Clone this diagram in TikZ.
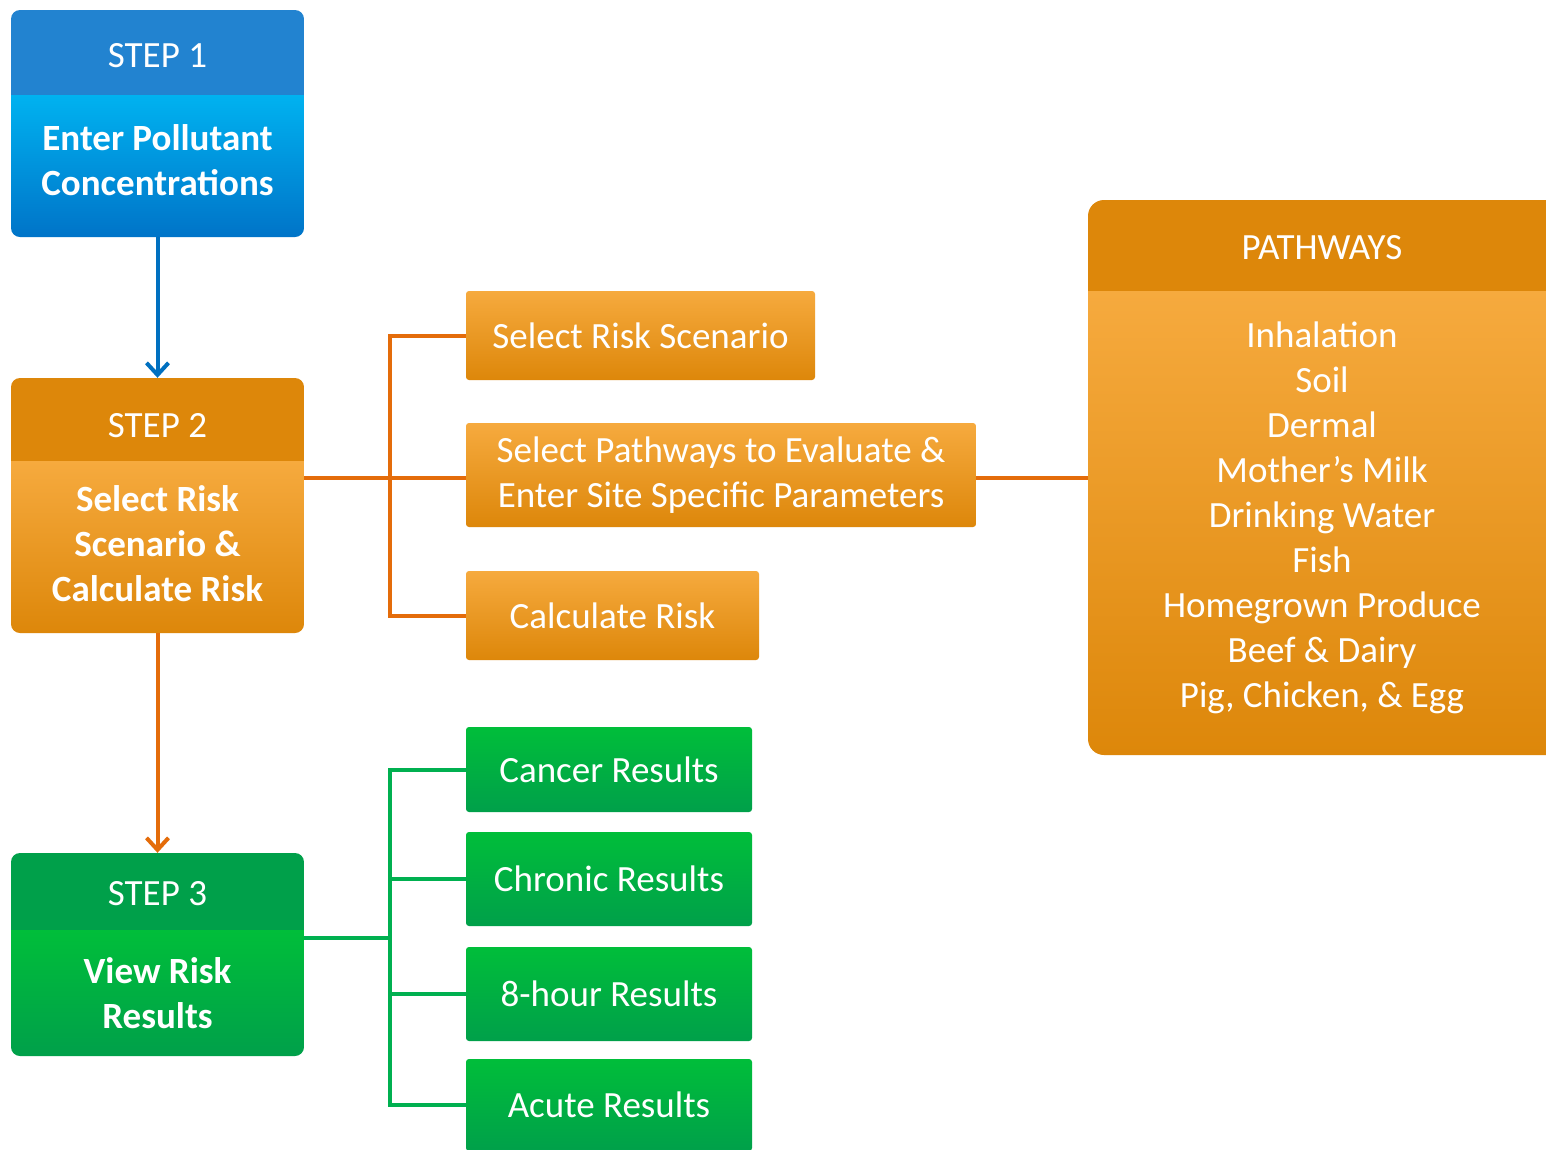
\documentclass[tikz,border=0pt]{standalone}
\usepackage{fontspec}
\setmainfont{Carlito}
\usetikzlibrary{arrows.meta,calc}
\definecolor{bhead}{RGB}{34,131,208}
\definecolor{btop}{RGB}{0,178,240}
\definecolor{bbot}{RGB}{0,116,200}
\definecolor{ohead}{RGB}{221,135,10}
\definecolor{otop}{RGB}{246,170,62}
\definecolor{obot}{RGB}{221,135,10}
\definecolor{ghead}{RGB}{0,160,74}
\definecolor{gtop}{RGB}{0,190,58}
\definecolor{gbot}{RGB}{0,160,74}
\definecolor{oline}{RGB}{228,108,10}
\definecolor{bline}{RGB}{0,112,192}
\definecolor{gline}{RGB}{0,176,80}
\tikzset{
  txt/.style={text=white, font=\fontsize{37}{45}\selectfont, align=center, inner sep=0pt},
  txtb/.style={txt, font=\bfseries\fontsize{37}{45}\selectfont},
  area/.style={inner sep=0pt, minimum width=293pt},
  obox/.style={txt, rounded corners=3pt, top color=otop, bottom color=obot},
  gbox/.style={txt, rounded corners=3pt, top color=gtop, bottom color=gbot},
  oconn/.style={draw=oline, line width=4pt},
  bconn/.style={draw=bline, line width=4pt},
  gconn/.style={draw=gline, line width=4pt},
  tip/.style={-{Straight Barb[length=12pt,width=22pt]}}
}
\begin{document}
\begin{tikzpicture}[x=1pt,y=-1pt]
\useasboundingbox (0,0) rectangle (1546,1149);
\clip (0,0) rectangle (1546,1149);
\fill[white] (0,0) rectangle (1546,1149);
% step 1 background
\begin{scope}
\clip[rounded corners=9pt] (11,10) rectangle (304,237);
\fill[bhead] (11,10) rectangle (304,95);
\shade[top color=btop,bottom color=bbot] (11,95) rectangle (304,237);
\end{scope}
% step 2 background
\begin{scope}
\clip[rounded corners=9pt] (11,378) rectangle (304,633);
\fill[ohead] (11,378) rectangle (304,461);
\shade[top color=otop,bottom color=obot] (11,461) rectangle (304,633);
\end{scope}
% step 3 background
\begin{scope}
\clip[rounded corners=9pt] (11,853) rectangle (304,1056);
\fill[ghead] (11,853) rectangle (304,930);
\shade[top color=gtop,bottom color=gbot] (11,930) rectangle (304,1056);
\end{scope}
% pathways background
\begin{scope}
\clip[rounded corners=16pt] (1088,200) rectangle (1570,755);
\fill[ohead] (1088,200) rectangle (1570,291);
\shade[top color=otop,bottom color=obot] (1088,291) rectangle (1570,755);
\end{scope}

% step areas
\node[area,minimum height=85pt] (s1h) at (157.5,52.5) {};
\node[area,minimum height=142pt] (s1b) at (157.5,166) {};
\node[area,minimum height=83pt] (s2h) at (157.5,419.5) {};
\node[area,minimum height=172pt] (s2b) at (157.5,547) {};
\node[area,minimum height=77pt] (s3h) at (157.5,891.5) {};
\node[area,minimum height=126pt] (s3b) at (157.5,993) {};
% step texts
\node[txt] (s1ht) at ([yshift=-3pt]s1h.center) {STEP 1};
\node[txtb] (s1bt) at ([yshift=6pt]s1b.center) {Enter Pollutant\\Concentrations};
\node[txt] (s2ht) at ([yshift=-6pt]s2h.center) {STEP 2};
\node[txtb] (s2bt) at ([yshift=3pt]s2b.center) {Select Risk\\Scenario \&\\Calculate Risk};
\node[txt] (s3ht) at ([yshift=-2pt]s3h.center) {STEP 3};
\node[txtb] (s3bt) at (s3b.center) {View Risk\\Results};

% orange sub-steps
\node[obox,minimum width=349pt,minimum height=89pt] (srs) at (640.5,335.5) {Select Risk Scenario};
\node[obox,minimum width=510pt,minimum height=104pt] (pw) at (721,475) {Select Pathways to Evaluate \&\\Enter Site Specific Parameters};
\node[obox,minimum width=293pt,minimum height=89pt] (cr) at (612.5,615.5) {Calculate Risk};

% pathways
\node[inner sep=0pt,minimum width=468pt,minimum height=91pt] (pwh) at (1322,245.5) {};
\node[inner sep=0pt,minimum width=468pt,minimum height=464pt] (pwl) at (1322,523) {};
\node[txt] (pwht) at ([yshift=-2pt]pwh.center) {PATHWAYS};
\node[txt] (pwlt) at ([yshift=5pt]pwl.center) {Inhalation\\Soil\\Dermal\\Mother’s Milk\\Drinking Water\\Fish\\Homegrown Produce\\Beef \& Dairy\\Pig, Chicken, \& Egg};

% green results
\node[gbox,minimum width=286pt,minimum height=85pt] (can) at (609,769.5) {Cancer Results};
\node[gbox,minimum width=286pt,minimum height=94pt] (chr) at (609,879) {Chronic Results};
\node[gbox,minimum width=286pt,minimum height=94pt] (eig) at (609,994) {8-hour Results};
\node[gbox,minimum width=286pt,minimum height=92pt] (acu) at (609,1105) {Acute Results};

% connectors
\coordinate (ob) at (390,478);
\coordinate (gb) at (390,938);
\draw[bconn,tip] (s1b.south) -- (s2h.north);
\draw[oconn,tip] (s2b.south) -- (s3h.north);
\draw[oconn] (s2b.east |- ob) -- (ob);
\draw[oconn] (srs.west) -- (srs.west -| ob) -- (cr.west -| ob) -- (cr.west);
\draw[oconn] (ob) -- (ob -| pw.west);
\draw[oconn] (pw.east |- ob) -- (pwl.west |- ob);
\draw[gconn] (s3b.east |- gb) -- (gb);
\draw[gconn] (can.west) -- (can.west -| gb) -- (acu.west -| gb) -- (acu.west);
\draw[gconn] (chr.west) -- (chr.west -| gb);
\draw[gconn] (eig.west) -- (eig.west -| gb);
\end{tikzpicture}
\end{document}
